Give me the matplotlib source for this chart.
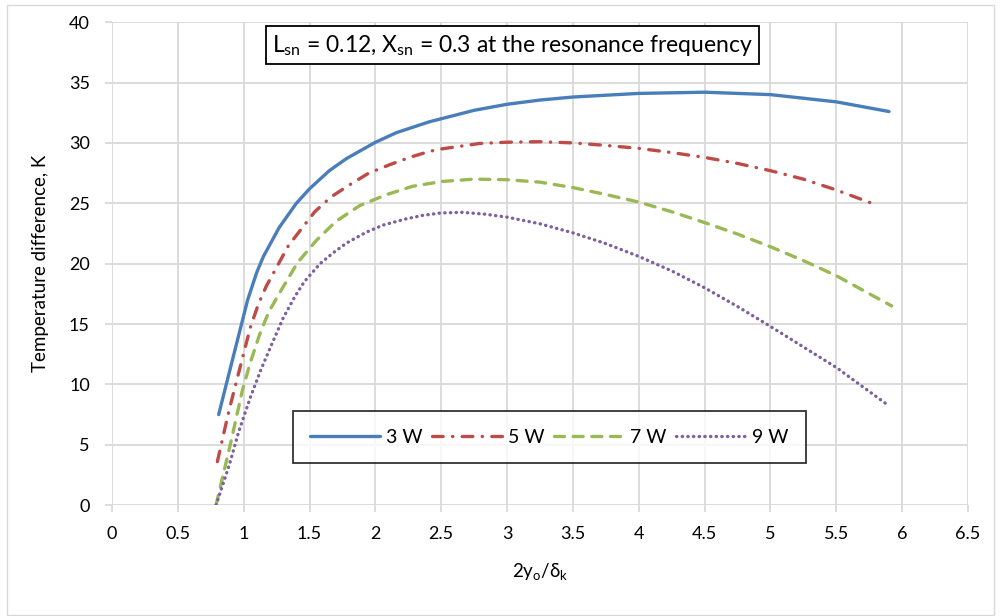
import numpy as np
import matplotlib.pyplot as plt

# data (x = 2y_o/delta_k, y = temperature difference, K)
x_3w = [0.81, 0.9, 1.0, 1.03, 1.1, 1.15, 1.2, 1.27, 1.4, 1.5, 1.65, 1.78, 2.0, 2.16, 2.41,
        2.5, 2.75, 3.0, 3.25, 3.5, 4.0, 4.5, 5.0, 5.5, 5.9]
t_3w = [7.5, 11.4, 15.7, 17.0, 19.3, 20.6, 21.6, 23.0, 25.0, 26.2, 27.7, 28.7, 30.05, 30.85, 31.75,
        32.0, 32.7, 33.2, 33.55, 33.8, 34.1, 34.2, 34.0, 33.4, 32.6]

x_5w = [0.8, 0.85, 0.89, 0.97, 1.05, 1.11, 1.17, 1.34, 1.54, 1.66, 1.8, 1.95, 2.11, 2.26, 2.41,
        2.5, 2.79, 3.0, 3.25, 3.5, 3.74, 4.0, 4.25, 4.5, 4.75, 5.0, 5.25, 5.5, 5.77]
t_5w = [3.6, 6.0, 7.9, 11.3, 14.7, 16.6, 18.1, 21.5, 24.3, 25.5, 26.5, 27.5, 28.2, 28.8, 29.3,
        29.5, 29.95, 30.06, 30.1, 30.0, 29.8, 29.55, 29.2, 28.8, 28.3, 27.7, 27.0, 26.1, 25.0]

x_7w = [0.79, 0.9, 0.99, 1.05, 1.12, 1.19, 1.29, 1.41, 1.55, 1.7, 1.88, 2.08, 2.28, 2.5, 2.75,
        3.0, 3.25, 3.5, 3.74, 4.0, 4.25, 4.5, 4.75, 5.0, 5.25, 5.5, 5.92]
t_7w = [0.0, 5.1, 9.5, 11.8, 14.1, 16.0, 17.9, 20.1, 21.9, 23.5, 24.8, 25.7, 26.4, 26.8, 27.0,
        26.95, 26.75, 26.3, 25.75, 25.1, 24.3, 23.4, 22.45, 21.4, 20.25, 19.0, 16.5]

x_9w = [0.79, 0.89, 0.96, 1.05, 1.13, 1.22, 1.3, 1.39, 1.46, 1.58, 1.68, 1.78, 1.93, 2.06, 2.23,
        2.36, 2.5, 2.66, 2.83, 3.0, 3.25, 3.5, 3.74, 4.0, 4.25, 4.5, 4.75, 5.0, 5.25, 5.5, 5.89]
t_9w = [0.0, 3.3, 6.0, 8.9, 11.2, 13.5, 15.5, 17.3, 18.5, 20.0, 20.9, 21.7, 22.6, 23.2, 23.7,
        24.0, 24.2, 24.25, 24.1, 23.85, 23.3, 22.55, 21.7, 20.6, 19.4, 18.0, 16.45, 14.8, 13.1, 11.4, 8.3]

labels = ['3 W', '5 W', '7 W', '9 W']
xticks = np.arange(0, 6.51, 0.5)
yticks = np.arange(0, 41, 5)

plt.rcParams['font.family'] = ['Lato', 'DejaVu Sans']

fig = plt.figure(figsize=(10, 6.16), dpi=100)
ax = fig.add_axes([0.112, 0.180, 0.856, 0.784])

lw = 2.4
ax.plot(x_3w, t_3w, color='#4A7EBB', lw=lw, solid_capstyle='round', solid_joinstyle='round',
        label=labels[0])
ax.plot(x_5w, t_5w, color='#BE4B48', lw=lw, dash_capstyle='round',
        dashes=(3.2, 2.8, 0.1, 2.8), label=labels[1])
ax.plot(x_7w, t_7w, color='#98B954', lw=lw, dash_capstyle='round',
        dashes=(3.0, 2.6), label=labels[2])
ax.plot(x_9w, t_9w, color='#7D60A0', lw=lw, dash_capstyle='round',
        dashes=(0.1, 1.6), label=labels[3])

ax.set_xlim(0, 6.5)
ax.set_ylim(0, 40)
ax.set_xticks(xticks)
ax.set_xticklabels([f'{v:g}' for v in xticks])
ax.set_yticks(yticks)
ax.tick_params(length=5, width=1.3, color='#D9D9D9', labelsize=13, labelcolor='black')
ax.tick_params(axis='x', pad=10)
ax.tick_params(axis='y', pad=11)
ax.grid(True, color='#D9D9D9', lw=1.3)
ax.set_axisbelow(True)
for s in ax.spines.values():
    s.set_visible(False)

ax.set_xlabel(r'2y$_\mathregular{o}$/δ$_\mathregular{k}$', fontsize=13.5, labelpad=14)
ax.set_ylabel('Temperature difference, K', fontsize=13.5, labelpad=14)

ax.text(0.468, 0.952, r'L$_\mathregular{sn}$ = 0.12, X$_\mathregular{sn}$ = 0.3 at the resonance frequency',
        transform=ax.transAxes, ha='center', va='center', fontsize=16.5,
        bbox=dict(boxstyle='square,pad=0.28', fc='white', ec='black', lw=1.3))

leg = ax.legend(loc='center', bbox_to_anchor=(0.511, 0.141), ncol=4, fontsize=14,
                frameon=True, fancybox=False, edgecolor='black', handlelength=3.6,
                columnspacing=0.5, handletextpad=0.3, borderpad=0.9)
leg.get_frame().set_linewidth(1.3)

fig.patches.append(plt.Rectangle((0.007, 0.002), 0.987, 0.99, transform=fig.transFigure,
                                 fill=False, ec='#D9D9D9', lw=1))

fig.savefig('out.png', dpi=100)
